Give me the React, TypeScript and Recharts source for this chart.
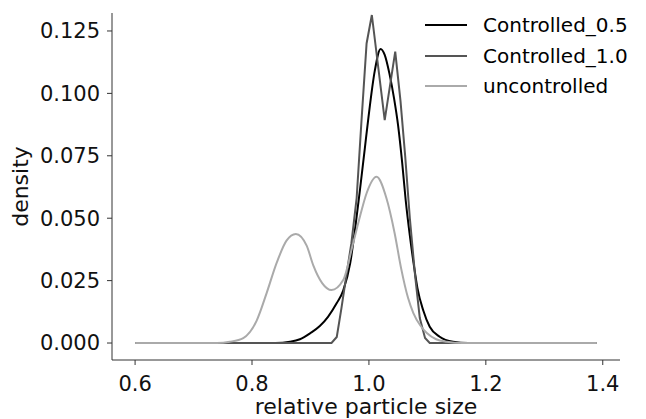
import { Legend, Line, LineChart, XAxis, YAxis } from "recharts";

// density curves
const ctrl05X = [0.6, 0.84, 0.865, 0.882, 0.9, 0.916, 0.93, 0.945, 0.956, 0.968, 0.976, 0.985, 0.993, 0.999, 1.01, 1.02, 1.027, 1.035, 1.043, 1.05, 1.057, 1.063, 1.07, 1.077, 1.083, 1.093, 1.104, 1.121, 1.144, 1.17, 1.39];
const ctrl05Y = [0, 0, 0.0005, 0.0015, 0.004, 0.0068, 0.0105, 0.016, 0.021, 0.032, 0.045, 0.062, 0.078, 0.09, 0.109, 0.1178, 0.1154, 0.108, 0.098, 0.087, 0.072, 0.057, 0.043, 0.031, 0.022, 0.013, 0.0065, 0.0025, 0.0005, 0, 0];

const ctrl10X = [0.6, 0.936, 0.945, 0.953, 0.962, 0.97, 0.979, 0.987, 0.996, 1.005, 1.027, 1.045, 1.054, 1.062, 1.07, 1.079, 1.087, 1.096, 1.104, 1.39];
const ctrl10Y = [0, 0, 0.0024, 0.014, 0.028, 0.04, 0.058, 0.088, 0.12, 0.1314, 0.0893, 0.1167, 0.097, 0.075, 0.05, 0.027, 0.01, 0.002, 0, 0];

const unctrlX = [0.6, 0.74, 0.762, 0.785, 0.808, 0.825, 0.842, 0.859, 0.875, 0.8935, 0.905, 0.92, 0.936, 0.956, 0.973, 0.985, 0.996, 1.013, 1.03, 1.044, 1.055, 1.067, 1.076, 1.088, 1.099, 1.115, 1.133, 1.16, 1.39];
const unctrlY = [0, 0, 0.0005, 0.002, 0.009, 0.02, 0.032, 0.041, 0.0437, 0.039, 0.031, 0.024, 0.0212, 0.0252, 0.04, 0.051, 0.06, 0.0666, 0.058, 0.044, 0.03, 0.018, 0.012, 0.007, 0.004, 0.0015, 0.0005, 0, 0];

const xTicks = [0.6, 0.8, 1.0, 1.2, 1.4];
const yTicks = [0, 0.025, 0.05, 0.075, 0.1, 0.125];

const FONT = '"DejaVu Sans", sans-serif';

const zip = (xs: number[], ys: number[]) => xs.map((x, i) => ({ x, y: ys[i] }));

const series = [
  { name: "Controlled_0.5", color: "#000000", data: zip(ctrl05X, ctrl05Y), curve: "monotone" },
  { name: "Controlled_1.0", color: "#555555", data: zip(ctrl10X, ctrl10Y), curve: "linear" },
  { name: "uncontrolled", color: "#aaaaaa", data: zip(unctrlX, unctrlY), curve: "monotone" },
] as const;

function LegendBox() {
  return (
    <div style={{ fontFamily: FONT, fontSize: 20, color: "#000" }}>
      {series.map((s) => (
        <div key={s.name} style={{ height: 30.5, display: "flex", alignItems: "center" }}>
          <svg width={42} height={4} style={{ marginRight: 16 }}>
            <line x1={0} y1={2} x2={42} y2={2} stroke={s.color} strokeWidth={2} />
          </svg>
          <span>{s.name}</span>
        </div>
      ))}
    </div>
  );
}

export default function App() {
  return (
    <div style={{ position: "absolute", left: 0, top: 0, width: 646, height: 419, background: "#fff" }}>
      <LineChart width={646} height={419} margin={{ top: 13, right: 26, bottom: 0, left: 0 }}>
        <XAxis
          type="number"
          dataKey="x"
          domain={[0.5605, 1.4295]}
          ticks={xTicks}
          tickFormatter={(v: number) => v.toFixed(1)}
          allowDataOverflow
          height={59}
          stroke="#333"
          tickSize={5}
          tickMargin={11}
          tick={{ fill: "#111", fontSize: 21, fontFamily: FONT }}
          label={{
            value: "relative particle size",
            position: "insideBottom",
            offset: 5,
            fill: "#111",
            fontSize: 22,
            fontFamily: FONT,
          }}
        />
        <YAxis
          type="number"
          domain={[-0.0068, 0.1322]}
          ticks={yTicks}
          tickFormatter={(v: number) => v.toFixed(3)}
          allowDataOverflow
          width={112}
          stroke="#333"
          tickSize={5}
          tickMargin={7}
          tick={{ fill: "#111", fontSize: 21, fontFamily: FONT }}
          label={{
            value: "density",
            angle: -90,
            position: "insideLeft",
            offset: 20,
            fill: "#111",
            fontSize: 22,
            fontFamily: FONT,
            style: { textAnchor: "middle" },
          }}
        />
        <Legend
          layout="vertical"
          align="center"
          verticalAlign="middle"
          wrapperStyle={{ top: 10, left: 425, width: 215 }}
          content={() => <LegendBox />}
        />
        {series.map((s) => (
          <Line
            key={s.name}
            data={s.data}
            dataKey="y"
            name={s.name}
            type={s.curve}
            stroke={s.color}
            strokeWidth={2}
            dot={false}
            activeDot={false}
            isAnimationActive={false}
          />
        ))}
      </LineChart>
    </div>
  );
}
